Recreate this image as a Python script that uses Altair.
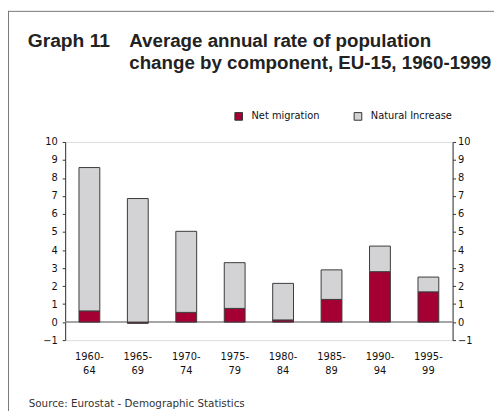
import altair as alt
import pandas as pd

periods = ["1960-\n64", "1965-\n69", "1970-\n74", "1975-\n79", "1980-\n84", "1985-\n89", "1990-\n94", "1995-\n99"]
net_migration = [0.62, -0.07, 0.54, 0.76, 0.12, 1.26, 2.80, 1.68]
natural_increase = [7.96, 6.86, 4.50, 2.54, 2.03, 1.64, 1.42, 0.82]
series = ["Net migration", "Natural Increase"]
colors = ["#a50034", "#d3d3d6"]
y_ticks = [-1, 0, 1, 2, 3, 4, 5, 6, 7, 8, 9, 10]

rows = []
for p, nm, ni in zip(periods, net_migration, natural_increase):
    rows.append({"period": p, "series": series[0], "value": nm, "ord": 0})
    rows.append({"period": p, "series": series[1], "value": ni, "ord": 1})
df = pd.DataFrame(rows)

W, H = 393, 201
PL, PT = 58, 133
FONT = "DejaVu Sans"

xscale = alt.Scale(domain=periods, paddingInner=0.57, paddingOuter=0.285)
yscale = alt.Scale(domain=[-1, 10], nice=False, zero=False)

axis_common = dict(title=None, values=y_ticks, grid=False, domainColor="#333333",
                   tickColor="#333333", tickSize=3, labelFont=FONT, labelFontSize=10,
                   labelColor="#111111", labelOverlap=False, labelFlush=False)
left_axis = alt.Axis(labelPadding=5, **axis_common)

zero_line = alt.Chart(pd.DataFrame({"value": [0]})).mark_rule(color="#888888", strokeWidth=1.5).encode(
    y=alt.Y("value:Q", scale=yscale, axis=left_axis), x=alt.value(0), x2=alt.value(W)
)

bars = alt.Chart(df).mark_bar(stroke="#3a3a3a", strokeWidth=1).encode(
    x=alt.X("period:N", scale=xscale, sort=periods,
            axis=alt.Axis(title=None, domain=False, ticks=False, labelAngle=0,
                          labelExpr="split(datum.label, '\\n')", labelPadding=12,
                          labelFont=FONT, labelFontSize=10, labelColor="#111111",
                          labelLineHeight=14)),
    y=alt.Y("value:Q", scale=yscale, stack="zero", axis=left_axis),
    color=alt.Color("series:N", scale=alt.Scale(domain=series, range=colors),
                    legend=alt.Legend(title=None, orient="none", legendX=171, legendY=-31,
                                      direction="horizontal", symbolType="square",
                                      symbolSize=60, symbolStrokeColor="#333333",
                                      symbolStrokeWidth=1, labelFont=FONT, labelFontSize=10,
                                      labelColor="#111111", columnPadding=33, labelOffset=8)),
    order=alt.Order("ord:Q"),
)

right_axis = alt.Chart(df).mark_point(opacity=0).encode(
    y=alt.Y("value:Q", scale=yscale,
            axis=alt.Axis(orient="right", labelPadding=2, **axis_common)),
)

base = alt.layer(zero_line, bars)
plot = alt.layer(base, right_axis).resolve_scale(y="independent")

graph_label = alt.Chart(pd.DataFrame({"t": ["Graph 11"]})).mark_text(
    font="Liberation Sans", fontSize=19.5, fontWeight="bold", align="left", baseline="alphabetic",
    color="#222222"
).encode(x=alt.value(-38), y=alt.value(-96), text="t:N")

title_text = alt.Chart(pd.DataFrame({"t": ["Average annual rate of population\nchange by component, EU-15, 1960-1999"]})).mark_text(
    font="Liberation Sans", fontSize=19, fontWeight="bold", align="left", baseline="alphabetic",
    color="#222222", lineBreak="\n", lineHeight=22
).encode(x=alt.value(65), y=alt.value(-96), text="t:N")

source_text = alt.Chart(pd.DataFrame({"t": ["Source: Eurostat - Demographic Statistics"]})).mark_text(
    font=FONT, fontSize=10.5, align="left", baseline="middle", color="#333333"
).encode(x=alt.value(-37), y=alt.value(266), text="t:N")

frame_top = alt.Chart(pd.DataFrame({"a": [0]})).mark_rule(color="#777777", strokeWidth=1).encode(
    x=alt.value(-PL), x2=alt.value(W + 60), y=alt.value(-PT + 0.5)
)
frame_left = alt.Chart(pd.DataFrame({"a": [0]})).mark_rule(color="#777777", strokeWidth=1).encode(
    x=alt.value(-PL + 0.5), y=alt.value(-PT), y2=alt.value(H + 80)
)

chart = alt.layer(
    plot, graph_label, title_text, source_text, frame_top, frame_left
).properties(
    width=W, height=H,
    autosize=alt.AutoSizeParams(type="none"),
    padding={"left": PL, "top": PT, "right": 42, "bottom": 69},
).configure_view(stroke=None).configure(background="white")

chart.save("out.html", embed_options={"renderer": "svg", "actions": False})
